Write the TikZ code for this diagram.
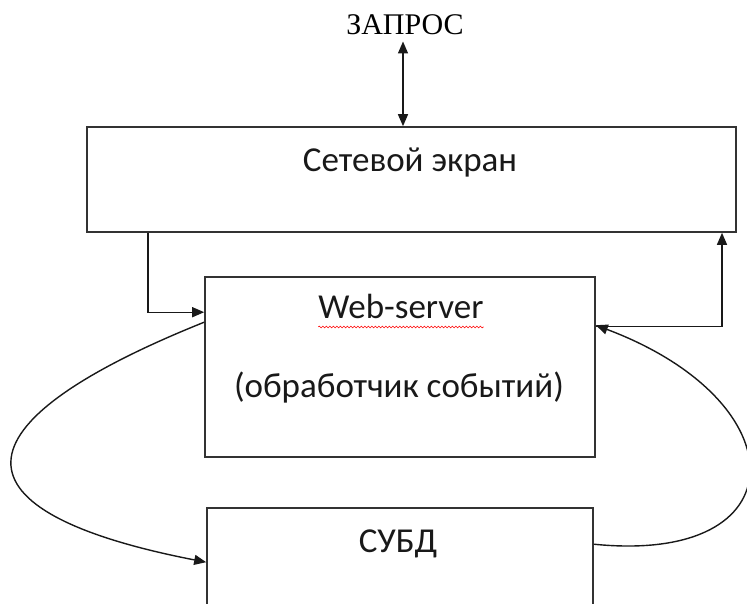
\documentclass[tikz,border=0pt]{standalone}
\usepackage{fontspec}
\setmainfont{Liberation Serif}
\newfontfamily\calib{Carlito}
\usetikzlibrary{arrows.meta,decorations.pathmorphing,calc}
\begin{document}
\begin{tikzpicture}[x=1pt,y=-1pt,
  box/.style={draw=black!80, line width=1.6pt, inner sep=0pt},
  lbl/.style={font=\calib\fontsize{35}{40}\selectfont, anchor=base, inner sep=0pt, text=black!90},
  conn/.style={draw=black!90, line width=1.4pt},
  tip/.style={-{Triangle[length=12pt,width=10pt]}}]
\useasboundingbox (0,0) rectangle (747,604);
% boxes
\node[box, minimum width=649pt, minimum height=105pt] (fw) at (411.5,179.5) {};
\node[box, minimum width=390pt, minimum height=180pt] (web) at (400,367) {};
\node[box, minimum width=386pt, minimum height=160pt] (db) at (400,588) {};
% texts
\node[font=\fontsize{30}{34}\selectfont, anchor=base, inner sep=0pt] (req) at (405,35) {ЗАПРОС};
\node[lbl] (fwt) at (410,172) {Сетевой экран};
\node[lbl] (webt) at (401,318) {Web-server};
\node[lbl] (webt2) at (399,397) {(обработчик событий)};
\node[lbl] (dbt) at (398,552) {СУБД};
% spell-check squiggle
\draw[red, line width=0.6pt, decorate, decoration={snake, amplitude=0.9pt, segment length=3.5pt}]
  ($(webt.base west)+(0,9)$) -- ($(webt.base east)+(0,9)$);
% helper coordinates
\coordinate (lx) at (148,0);
\coordinate (rx) at (722,0);
\coordinate (qa) at (403,0);
% connectors
\draw[conn, {Triangle[length=12pt,width=10pt]}-{Triangle[length=12pt,width=10pt]}]
  ($(qa |- req.south)+(0,6)$) -- (qa |- fw.north);
\draw[conn, tip] (lx |- fw.south) |- ($(web.north west)+(0,36)$);
\draw[conn, tip] ($(web.north east)+(0,50)$) -| (rx |- fw.south);
\draw[conn, tip] ($(web.north west)+(0,46)$)
  .. controls (-52,425) and (-52,512) .. ($(db.north west)+(0,55)$);
\draw[conn, tip] ($(db.north east)+(0,37)$)
  .. controls (800,565) and (800,402) .. ($(web.north east)+(0,49)$);
\end{tikzpicture}
\end{document}
